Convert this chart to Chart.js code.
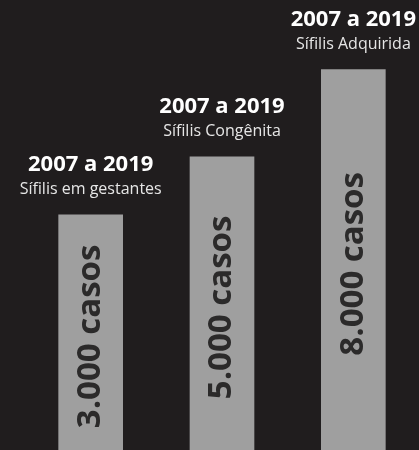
<!DOCTYPE html>
<html lang="pt-BR">
<head>
  <meta charset="UTF-8">
  <title>Sífilis 2007 a 2019</title>
  <script src="https://cdn.jsdelivr.net/npm/chart.js@4"></script>
  <style>
    html, body { margin: 0; padding: 0; background: #201d1e; }
    .wrap { width: 419px; height: 450px; position: relative; }
  </style>
</head>
<body>
  <div class="wrap"><canvas id="grafico" width="419" height="450"></canvas></div>

  <script>
  // dados
  const categorias = ['Sífilis em gestantes', 'Sífilis Congênita', 'Sífilis Adquirida'];
  const periodos = ['2007 a 2019', '2007 a 2019', '2007 a 2019'];
  const casos = [3000, 5000, 8000];
  const rotulos = ['3.000 casos', '5.000 casos', '8.000 casos'];

  // a escala não começa em zero (infográfico)
  const yMin = -5100, yMax = 10400;

  // títulos acima + texto girado dentro das barras
  const rotulosPlugin = {
    id: 'rotulos',
    afterDatasetsDraw(chart) {
      const ctx = chart.ctx;
      chart.getDatasetMeta(0).data.forEach((bar, i) => {
        ctx.save();
        ctx.textAlign = 'center';
        ctx.fillStyle = '#ffffff';
        ctx.font = 'bold 22px "Open Sans"';
        ctx.textBaseline = 'alphabetic';
        ctx.fillText(periodos[i], bar.x, bar.y - 44);
        ctx.fillStyle = '#e6e6e6';
        ctx.font = '16px "Open Sans"';
        ctx.fillText(categorias[i], bar.x, bar.y - 21);

        ctx.translate(bar.x, (bar.y + bar.base) / 2 + 4);
        ctx.rotate(-Math.PI / 2);
        ctx.fillStyle = '#2b2a2a';
        ctx.font = 'bold 33px "Open Sans"';
        ctx.textBaseline = 'middle';
        ctx.fillText(rotulos[i], 0, 0);
        ctx.restore();
      });
    }
  };

  new Chart('grafico', {
    type: 'bar',
    data: {
      labels: categorias,
      datasets: [{
        data: casos,
        base: yMin,
        backgroundColor: '#9f9f9f',
        borderWidth: 0,
        barThickness: 64
      }]
    },
    options: {
      responsive: false,
      animation: false,
      layout: { padding: { left: 25, right: 0, top: 0, bottom: 0 } },
      plugins: { legend: { display: false }, tooltip: { enabled: false } },
      scales: {
        x: { display: false },
        y: { display: false, min: yMin, max: yMax }
      }
    },
    plugins: [rotulosPlugin]
  });
  </script>
</body>
</html>
